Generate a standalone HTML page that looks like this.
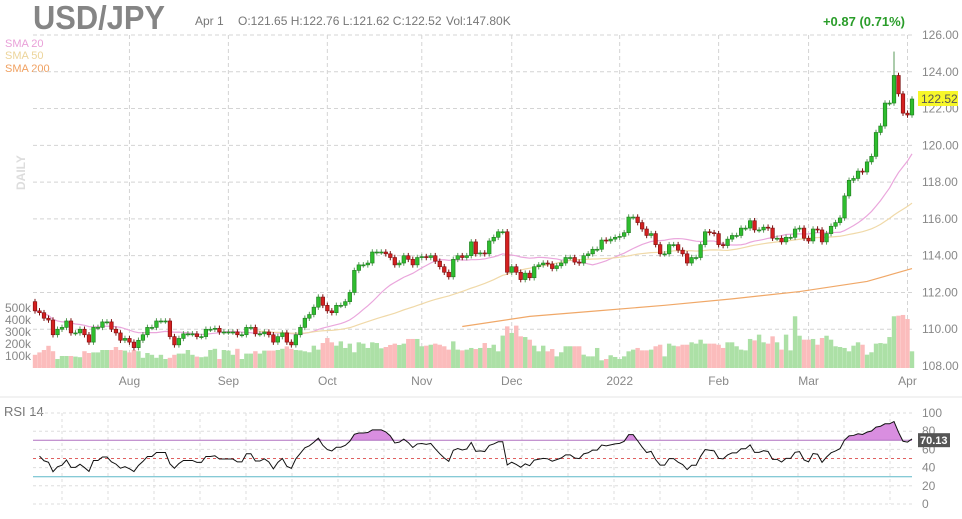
<!DOCTYPE html>
<html><head><meta charset="utf-8"><style>
body{margin:0;background:#fff;width:962px;height:514px;overflow:hidden;font-family:"Liberation Sans",sans-serif}
svg text{font-family:"Liberation Sans",sans-serif}
</style></head><body>
<svg id="chart" width="962" height="514" xmlns="http://www.w3.org/2000/svg">
<text x="33" y="29" font-size="33" font-weight="bold" fill="#858585" textLength="132" lengthAdjust="spacingAndGlyphs">USD/JPY</text>
<text x="195" y="25" font-size="12" fill="#777">Apr 1<tspan x="238">O:121.65  H:122.76  L:121.62  C:122.52</tspan><tspan x="446">Vol:147.80K</tspan></text>
<text x="905" y="26" font-size="13" font-weight="bold" fill="#2a9d2a" text-anchor="end">+0.87 (0.71%)</text>
<text x="5" y="47" font-size="11" fill="#e9a0d8">SMA 20</text>
<text x="5" y="59" font-size="11" fill="#ecd49a">SMA 50</text>
<text x="5" y="72" font-size="11" fill="#f0a060">SMA 200</text>
<text x="25" y="190" font-size="12" font-weight="bold" fill="#ddd" transform="rotate(-90 25 190)">DAILY</text>
<line x1="0" y1="397" x2="962" y2="397" stroke="#e4e4e4"/>
<text x="4" y="416" font-size="13" fill="#777">RSI 14</text>
<g id="grid"></g><g id="vol"></g><g id="sma"></g><g id="candles"></g><g id="rsi"></g><g id="labels"></g>
</svg>
<script>
const closes=[111.0,110.9,110.6,110.5,109.7,110.0,110.1,110.45,109.8,109.8,110.0,109.7,109.3,110.1,110.1,110.4,110.4,110.0,109.8,109.4,109.5,109.3,109.0,109.4,109.7,110.1,110.1,110.45,110.45,110.45,109.6,109.15,109.5,109.75,109.75,109.75,109.6,109.6,110.0,110.0,110.05,109.85,109.85,109.85,109.85,109.7,109.7,110.1,110.1,109.75,109.75,109.85,109.7,109.3,109.6,109.8,109.3,109.15,109.7,
110.1,110.6,110.8,111.2,111.75,111.3,111.0,110.9,111.3,111.3,111.5,112.0,113.2,113.5,113.5,113.6,114.2,114.2,114.2,114.1,113.9,113.5,113.6,114.0,113.8,113.5,113.9,113.95,113.9,114.0,113.7,113.4,113.1,112.85,113.8,114.0,113.9,114.0,114.75,114.1,114.15,114.1,114.8,115.0,115.3,115.3,113.1,113.4,113.1,112.7,113.05,
112.8,113.4,113.5,113.6,113.55,113.3,113.45,113.6,113.9,113.9,113.65,113.6,114.0,114.1,114.35,114.35,114.85,114.8,114.9,115.0,115.05,115.25,116.1,116.1,115.8,115.45,115.1,115.2,114.6,114.1,114.1,114.6,114.6,114.3,114.1,113.6,113.9,113.9,114.6,115.3,115.25,115.2,114.6,114.55,114.9,115.1,115.1,115.5,115.5,115.9,
115.4,115.4,115.55,115.5,114.95,114.95,114.75,115.0,115.0,115.45,115.5,114.95,114.8,115.45,115.4,114.75,115.2,115.6,115.8,116.05,117.25,118.1,118.2,118.6,118.55,119.1,119.4,120.7,121.05,
122.3,122.3,123.8,122.8,121.75,121.65,122.52];
const firstOpen=111.5;
const volumes=[110,130,150,185,140,75,100,100,100,95,90,140,125,130,130,150,150,150,175,150,145,130,150,140,85,125,110,85,110,75,85,110,120,120,150,110,95,90,95,150,160,75,150,145,110,160,75,120,120,140,120,145,145,145,150,160,180,160,150,
147,139,131,186,153,208,250,214,186,222,167,203,131,214,203,167,214,208,164,175,192,203,192,203,242,242,242,181,186,194,203,194,181,153,222,153,147,153,167,158,167,208,167,194,139,270,347,292,353,264,258,
236,186,139,186,139,158,97,131,181,181,181,181,111,97,97,167,64,75,106,92,75,97,139,153,167,147,147,153,181,194,97,203,186,181,194,194,214,203,236,203,203,203,194,167,214,214,181,153,147,242,
230,278,214,203,264,214,153,278,147,431,269,236,236,242,194,250,269,236,181,175,167,139,186,214,194,111,131,203,208,
203,258,431,436,442,408,139];
const spikeBars=[191];
const spikeHighs=[125.1];
const sma200Bars=[95,110,125,140,155,170,185,195];
const sma200Vals=[110.15,110.7,111.0,111.3,111.65,112.05,112.6,113.3];
const priceTicks=[126,124,122,120,118,116,114,112,110,108];
const volTicks=[100,200,300,400,500];
const volTickLabels=["100k","200k","300k","400k","500k"];
const monthLabels=["Aug","Sep","Oct","Nov","Dec","2022","Feb","Mar","Apr"];
const monthBars=[21,43,65,86,106,130,152,172,194];
const rsiTicks=[100,80,60,40,20,0];
const rsiSeed=[0.12,0.1];
const lastPriceLabel="122.52";
const lastRsiLabel="70.13";

const NS="http://www.w3.org/2000/svg";
const N=closes.length;
const xB=i=>35+i*(877/(N-1));
const yP=p=>35+(126-p)*18.39;
const yV=v=>368-v*0.12;
const yR=r=>504-r*0.91;
function mk(tag,parent,attrs){const e=document.createElementNS(NS,tag);for(const k in attrs)e.setAttribute(k,attrs[k]);document.getElementById(parent).appendChild(e);return e;}
priceTicks.forEach(p=>{const l=mk('line','grid',{x1:33,x2:912,y1:yP(p),y2:yP(p),stroke:'#d4d4d4','stroke-dasharray':'4,3'});


const t=mk('text','labels',{x:922,y:yP(p)+4,'font-size':12,fill:'#888'});t.textContent=p.toFixed(2);

});
monthBars.forEach((b,i)=>{const l=mk('line','grid',{x1:xB(b),x2:xB(b),y1:35,y2:370,stroke:'#d4d4d4','stroke-dasharray':'4,3'});


const t=mk('text','labels',{x:xB(b),y:385,'font-size':12,fill:'#888','text-anchor':'middle'});t.textContent=monthLabels[i];

});
volTicks.forEach((v,i)=>{const t=mk('text','labels',{x:5,y:yV(v)+4,'font-size':12,fill:'#888'});t.textContent=volTickLabels[i];

});
volumes.forEach((v,i)=>{if(i>=N)return;const o=i?closes[i-1]:firstOpen;const up=closes[i]>=o;const r=mk('rect','vol',{x:xB(i)-2.2,y:yV(v),width:4.4,height:368-yV(v),fill:up?'#ace0a6':'#fbbcbc'});

});
function sma(n){return closes.map((c,i)=>{const s=closes.slice(Math.max(0,i-n+1),i+1);return s.reduce((a,b)=>a+b,0)/s.length;});}
const s20=sma(20),s50=sma(50);
function poly(pts,color,name){const p=mk('polyline','sma',{points:pts.join(' '),fill:'none',stroke:color,'stroke-width':1.2});
}
poly(s20.map((v,i)=>xB(i)+','+yP(v)),'#eaa6dc','sma20-line');
poly(s50.slice(49).map((v,i)=>xB(i+49)+','+yP(v)),'#f0d9a8','sma50-line');
poly(sma200Bars.map((b,i)=>xB(b)+','+yP(sma200Vals[i])),'#f0a868','sma200-line');
closes.forEach((c,i)=>{const o=i?closes[i-1]:firstOpen;const up=c>=o;let hi=Math.max(o,c)+0.15,lo=Math.min(o,c)-0.15;
const si=spikeBars.indexOf(i);if(si>=0)hi=spikeHighs[si];
const w=mk('line','candles',{x1:xB(i),x2:xB(i),y1:yP(hi),y2:yP(lo),stroke:up?'#5a9a5a':'#7a1010'});


const top=yP(Math.max(o,c)),h=Math.max(1,yP(Math.min(o,c))-top);
const r=mk('rect','candles',{x:xB(i)-1.8,y:top,width:3.6,height:h,fill:up?'#2ebd2e':'#d42020',stroke:up?'#1e7a1e':'#7a1010','stroke-width':0.6});

});
const pt=mk('rect','labels',{x:918,y:yP(122.52)-8,width:40,height:15,fill:'#f7f72a'});


const ptt=mk('text','labels',{x:921,y:yP(122.52)+4,'font-size':12,fill:'#555'});ptt.textContent=lastPriceLabel;


for(let x=62;x<912;x+=46){const l=mk('line','rsi',{x1:x,x2:x,y1:413,y2:504,stroke:'#ddd','stroke-dasharray':'3,3'});

}
rsiTicks.forEach(r=>{const l=mk('line','rsi',{x1:33,x2:912,y1:yR(r),y2:yR(r),stroke:'#ddd','stroke-dasharray':'3,3'});


const t=mk('text','labels',{x:922,y:yR(r)+4,'font-size':12,fill:'#888'});t.textContent=r;

});
const rsi=[];let ag=rsiSeed[0],al=rsiSeed[1];
for(let i=1;i<N;i++){const d=closes[i]-closes[i-1],g=Math.max(d,0),l=Math.max(-d,0);
ag=(ag*13+g)/14;al=(al*13+l)/14;
rsi[i]=al===0?100:100-100/(1+ag/al);}
const rp=[];for(let i=1;i<N;i++)rp.push([xB(i),yR(Math.min(95,Math.max(5,rsi[i])))]);
const fill=mk('path','rsi',{d:'M'+rp.map(p=>p[0]+','+Math.min(p[1],yR(70))).join(' L')+' L'+xB(N-1)+','+yR(70)+' L'+xB(1)+','+yR(70)+'Z',fill:'#d98ee0'});


[[70,'#b070c0','rsi-70-line',''],[50,'#e06060','rsi-50-line','3,3'],[30,'#5fb8c8','rsi-30-line','']].forEach(a=>{const l=mk('line','rsi',{x1:33,x2:912,y1:yR(a[0]),y2:yR(a[0]),stroke:a[1],'stroke-dasharray':a[3]});

});
const rl=mk('polyline','rsi',{points:rp.map(p=>p.join(',')).join(' '),fill:'none',stroke:'#111','stroke-width':1});


const rt=mk('rect','labels',{x:918,y:yR(70.13)-7,width:32,height:14,fill:'#555'});


const rtt=mk('text','labels',{x:920,y:yR(70.13)+4,'font-size':11,'font-weight':'bold',fill:'#fff'});rtt.textContent=lastRsiLabel;


</script>
</body></html>
